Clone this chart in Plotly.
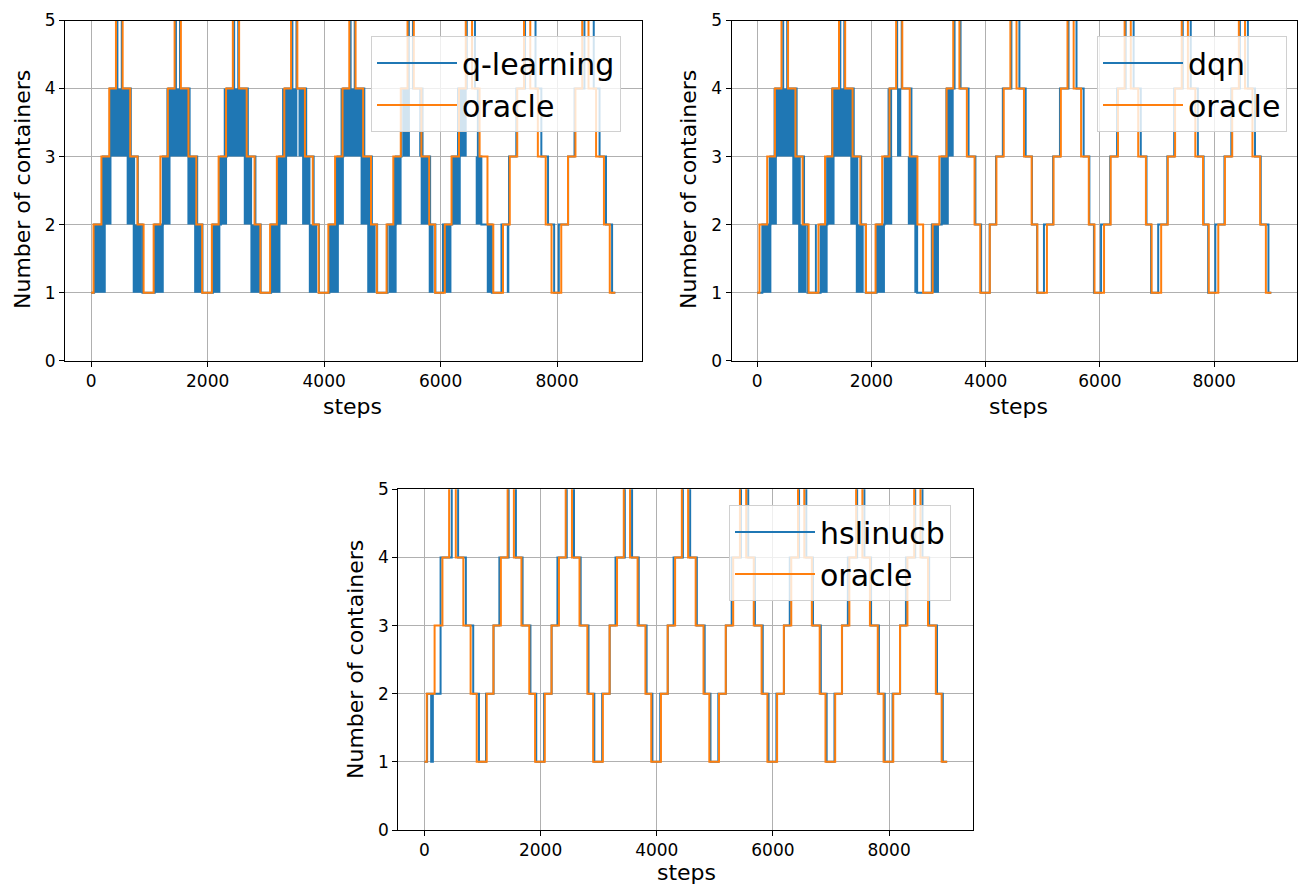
import plotly.graph_objects as go

# ---------------- data ----------------
STEPS_END = 9000
X_TICKS = [0, 2000, 4000, 6000, 8000]
Y_TICKS = [0, 1, 2, 3, 4, 5]

# oracle: steps where the number of containers changes, and new level
oracle_steps = [
    40, 175, 310, 425, 540, 670, 795, 900,
    1072, 1188, 1316, 1432, 1540, 1670, 1805, 1905,
    2072, 2188, 2316, 2432, 2540, 2670, 2805, 2905,
    3072, 3188, 3316, 3432, 3540, 3670, 3805, 3905,
    4072, 4188, 4316, 4432, 4540, 4670, 4805, 4905,
    5072, 5188, 5316, 5432, 5540, 5670, 5805, 5905,
    6072, 6188, 6316, 6432, 6540, 6670, 6805, 6905,
    7072, 7188, 7316, 7432, 7540, 7670, 7805, 7905,
    8072, 8188, 8316, 8432, 8540, 8670, 8805, 8905,
]
cycle_levels = [
    2, 3, 4, 6, 4, 3, 2, 1,
    2, 3, 4, 6, 4, 3, 2, 1,
    2, 3, 4, 6, 4, 3, 2, 1,
    2, 3, 4, 6, 4, 3, 2, 1,
    2, 3, 4, 6, 4, 3, 2, 1,
    2, 3, 4, 6, 4, 3, 2, 1,
    2, 3, 4, 6, 4, 3, 2, 1,
    2, 3, 4, 6, 4, 3, 2, 1,
    2, 3, 4, 6, 4, 3, 2, 1,
]

qlearning_steps = [
    50, 200, 320, 450, 525, 680, 800, 880,
    1090, 1230, 1330, 1455, 1525, 1690, 1820, 1910,
    2090, 2230, 2330, 2455, 2525, 2690, 2820, 2910,
    3090, 3230, 3330, 3455, 3525, 3690, 3820, 3910,
    4090, 4230, 4330, 4455, 4525, 4690, 4820, 4910,
    5090, 5230, 5330, 5455, 5525, 5690, 5820, 5910,
    6040, 6200, 6300, 6450, 6590, 6640, 6700, 6880,
    7045, 7175, 7300, 7450, 7630, 7730, 7845, 7950,
    8030, 8190, 8300, 8470, 8630, 8730, 8840, 8945,
]
# oscillation bands of q-learning (start, end, low level, high level)
q_band_start = [41, 174, 307, 609, 713,
                1084, 1217, 1292, 1652, 1768,
                2075, 2190, 2276, 2620, 2734,
                3078, 3192, 3278, 3560, 3622, 3737,
                4081, 4196, 4282, 4626, 4740,
                5113, 5198, 5347, 5633, 5658, 5796,
                6030, 6203, 6288, 6603, 6793, 7137]
q_band_end = [250, 348, 667, 754, 870,
              1246, 1362, 1681, 1826, 1913,
              2218, 2333, 2677, 2763, 2906,
              3250, 3364, 3540, 3708, 3765, 3880,
              4253, 4339, 4680, 4790, 4884,
              5245, 5330, 5473, 5690, 5800, 5880,
              6186, 6346, 6448, 6700, 6874, 7180]
q_band_low = [1, 2, 3, 2, 1,
              1, 2, 3, 2, 1,
              1, 2, 3, 2, 1,
              1, 2, 3, 3, 2, 1,
              1, 2, 3, 2, 1,
              1, 2, 3, 3, 2, 1,
              1, 2, 3, 2, 1, 1]
q_band_high = [2, 3, 4, 3, 2,
               2, 3, 4, 3, 2,
               2, 3, 4, 3, 2,
               2, 3, 4, 4, 3, 2,
               2, 3, 4, 3, 2,
               2, 3, 4, 4, 3, 2,
               2, 3, 4, 3, 2, 2]

dqn_steps = [
    90, 230, 320, 455, 525, 690, 820, 880,
    1110, 1230, 1320, 1455, 1525, 1690, 1820, 1900,
    2090, 2230, 2320, 2450, 2530, 2700, 2790, 2800,
    3060, 3230, 3320, 3455, 3560, 3700, 3820, 3920,
    4070, 4180, 4300, 4450, 4590, 4700, 4810, 4900,
    5020, 5180, 5300, 5450, 5590, 5715, 5815, 5895,
    6020, 6180, 6300, 6450, 6590, 6715, 6815, 6895,
    7020, 7180, 7300, 7450, 7590, 7715, 7815, 7895,
    8020, 8180, 8300, 8450, 8590, 8715, 8815, 8950,
]
dqn_band_start = [86, 201, 287, 614, 717,
                  1010, 1107, 1210, 1296, 1630, 1726,
                  2064, 2221, 2282, 2448, 2637, 2751,
                  3039, 3211, 3297]
dqn_band_end = [248, 344, 660, 763, 860,
                1044, 1233, 1354, 1670, 1770, 1864,
                2236, 2364, 2362, 2522, 2781, 2809,
                3182, 3354, 3440]
dqn_band_low = [1, 2, 3, 2, 1,
                1, 1, 2, 3, 2, 1,
                1, 2, 3, 3, 2, 1,
                1, 2, 3]
dqn_band_high = [2, 3, 4, 3, 2,
                 2, 2, 3, 4, 3, 2,
                 2, 3, 4, 4, 3, 2,
                 2, 3, 4]

hslinucb_steps = [
    46, 116, 145, 278, 470, 580, 713, 840, 939,
    1060, 1190, 1290, 1450, 1575, 1690, 1825, 1925,
    2060, 2190, 2290, 2450, 2575, 2690, 2825, 2925,
    3060, 3190, 3290, 3450, 3575, 3690, 3825, 3925,
    4060, 4190, 4290, 4450, 4575, 4690, 4825, 4925,
    5060, 5190, 5290, 5450, 5575, 5690, 5825, 5925,
    6060, 6190, 6290, 6450, 6575, 6690, 6825, 6925,
    7060, 7190, 7290, 7450, 7575, 7690, 7825, 7925,
    8060, 8190, 8290, 8450, 8575, 8690, 8825, 8925,
]
hslinucb_levels = [
    2, 1, 2, 4, 6, 4, 3, 2, 1,
    2, 3, 4, 6, 4, 3, 2, 1,
    2, 3, 4, 6, 4, 3, 2, 1,
    2, 3, 4, 6, 4, 3, 2, 1,
    2, 3, 4, 6, 4, 3, 2, 1,
    2, 3, 4, 6, 4, 3, 2, 1,
    2, 3, 4, 6, 4, 3, 2, 1,
    2, 3, 4, 6, 4, 3, 2, 1,
    2, 3, 4, 6, 4, 3, 2, 1,
]

# ---------------- styling ----------------
W, H = 1298, 886
BLUE = "#1f77b4"
ORANGE = "#ff7f0e"
FONT = "DejaVu Sans"


def step_xy(changes, levels):
    xs, ys = [0], [1]
    for c, lv in zip(changes, levels):
        xs.append(c)
        ys.append(lv)
    xs.append(STEPS_END)
    ys.append(levels[-1])
    return xs, ys


def band_xy(x0s, x1s, lows, highs):
    xs, ys = [], []
    for a, b, lo, hi in zip(x0s, x1s, lows, highs):
        xs += [a, b, b, a, a, None]
        ys += [lo, lo, hi, hi, lo, None]
    return xs, ys


fig = go.Figure()

panels = [
    ("q-learning", qlearning_steps, cycle_levels, (q_band_start, q_band_end, q_band_low, q_band_high), "x", "y", "legend"),
    ("dqn", dqn_steps, cycle_levels, (dqn_band_start, dqn_band_end, dqn_band_low, dqn_band_high), "x2", "y2", "legend2"),
    ("hslinucb", hslinucb_steps, hslinucb_levels, None, "x3", "y3", "legend3"),
]

for name, steps, levels, bands, xa, ya, lg in panels:
    if bands is not None:
        bx, by = band_xy(*bands)
        fig.add_trace(go.Scatter(x=bx, y=by, mode="lines", fill="toself",
                                 fillcolor=BLUE, line=dict(width=0, color=BLUE),
                                 xaxis=xa, yaxis=ya, showlegend=False, hoverinfo="skip"))
    ax, ay = step_xy(steps, levels)
    fig.add_trace(go.Scatter(x=ax, y=ay, mode="lines", line_shape="hv",
                             line=dict(color=BLUE, width=2), name=name,
                             xaxis=xa, yaxis=ya, legend=lg))
    ox, oy = step_xy(oracle_steps, cycle_levels)
    fig.add_trace(go.Scatter(x=ox, y=oy, mode="lines", line_shape="hv",
                             line=dict(color=ORANGE, width=2), name="oracle",
                             xaxis=xa, yaxis=ya, legend=lg))

# axes pixel boxes (left, right, top, bottom)
boxes = {
    "": (65, 641.5, 20.5, 360.7),
    "2": (731.5, 1297, 20.5, 360.7),
    "3": (398.3, 973.3, 489.3, 830),
}

axis_common = dict(showline=True, mirror=True, linecolor="black", linewidth=1,
                   ticks="outside", ticklen=5, tickcolor="black", tickwidth=1,
                   showgrid=True, gridcolor="#b0b0b0", gridwidth=1, zeroline=False,
                   automargin=False,
                   tickfont=dict(family=FONT, size=17, color="black"))

for suf, (l, r, t, b) in boxes.items():
    anchor = "y" + suf
    fig.update_layout(**{
        "xaxis" + suf: dict(axis_common, domain=[l / W, r / W], anchor=anchor,
                           range=[-450, 9450], tickvals=X_TICKS),
        "yaxis" + suf: dict(axis_common, domain=[1 - b / H, 1 - t / H], anchor="x" + suf,
                           range=[0, 5], tickvals=Y_TICKS),
    })

legend_common = dict(bgcolor="rgba(255,255,255,0.8)", bordercolor="#d0d0d0", borderwidth=1,
                     font=dict(family=FONT, size=30, color="black"),
                     xanchor="right", yanchor="top", tracegroupgap=0, itemwidth=80)
fig.update_layout(
    legend=dict(legend_common, x=621 / W, y=1 - 36 / H),
    legend2=dict(legend_common, x=1287 / W, y=1 - 36 / H),
    legend3=dict(legend_common, x=951 / W, y=1 - 505 / H),
)

annots = [
    ("steps", 352, 407, 0),
    ("steps", 1018, 407, 0),
    ("steps", 686, 872, 0),
    ("Number of containers", 22, 190, -90),
    ("Number of containers", 688, 190, -90),
    ("Number of containers", 355, 660, -90),
]
fig.update_layout(annotations=[
    dict(text=txt, x=px / W, y=1 - py / H, xref="paper", yref="paper",
         xanchor="center", yanchor="middle", showarrow=False, textangle=ang,
         font=dict(family=FONT, size=22, color="black"))
    for txt, px, py, ang in annots
])

fig.update_layout(width=W, height=H,
                  margin=dict(l=0, r=0, t=0, b=0, pad=0, autoexpand=False),
                  plot_bgcolor="white", paper_bgcolor="white")

fig.write_html("out.html", config={"displayModeBar": False},
               post_script="document.body.style.margin='0';document.body.style.overflow='hidden';")
